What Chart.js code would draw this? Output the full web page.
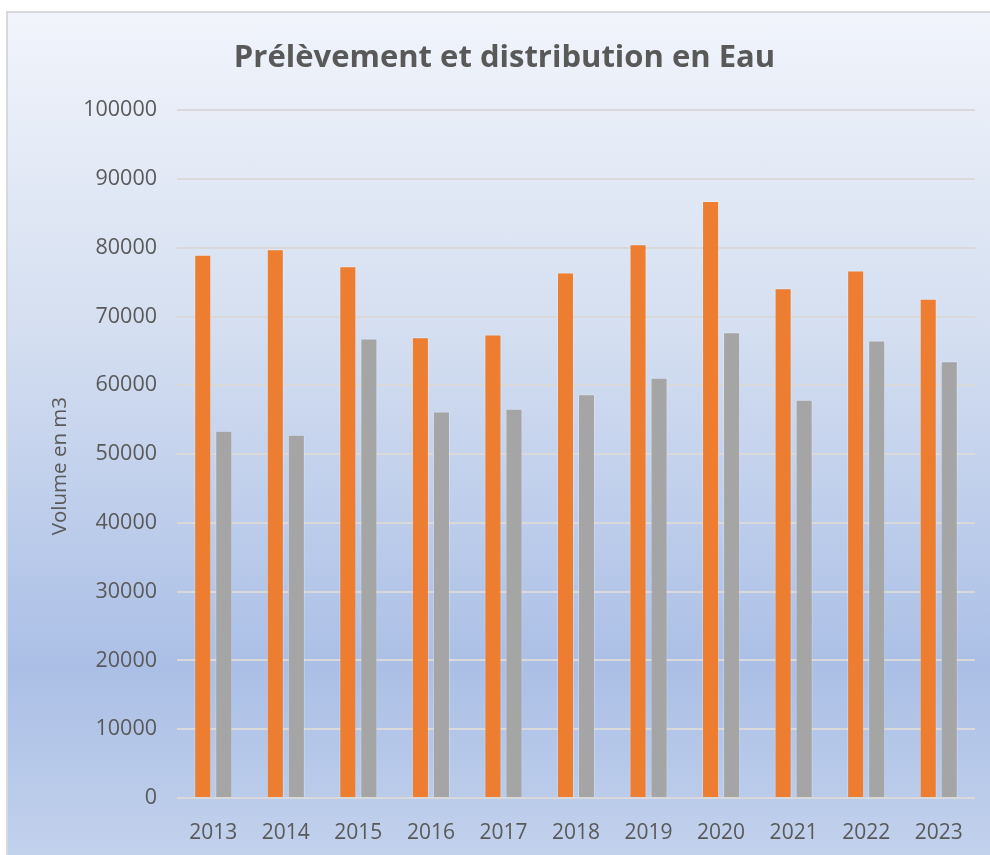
<!DOCTYPE html>
<html>
<head>
<meta charset="utf-8">
<script src="https://cdn.jsdelivr.net/npm/chart.js@4.4.0/dist/chart.umd.min.js"></script>
<style>
  html, body { margin: 0; padding: 0; background: #ffffff; width: 990px; height: 855px; overflow: hidden; }
  #frame {
    position: absolute; left: 6px; top: 11px; width: 1000px; height: 860px;
    border-top: 2px solid #d9d9d9; border-left: 2px solid #d9d9d9;
    background: linear-gradient(to bottom, #f1f4fb 0%, #d6e0f1 35%, #abbfe6 76%, #c4d3ed 100%);
  }
  #wrap { position: absolute; left: 0; top: 0; width: 990px; height: 855px; }
</style>
</head>
<body>
<div id="frame"></div>
<div id="wrap"><canvas id="c" width="990" height="855"></canvas></div>
<script>
const categories = ["2013","2014","2015","2016","2017","2018","2019","2020","2021","2022","2023"];
const prelevement = [79000, 79800, 77300, 67000, 67400, 76400, 80500, 86800, 74100, 76700, 72600];
const distribution = [53400, 52800, 66800, 56200, 56600, 58700, 61100, 67700, 57900, 66500, 63500];
const yTicks = { min: 0, max: 100000, step: 10000 };
const yTitle = "Volume en m3";

const textColor = "#595959";
const fontFamily = "'Open Sans', 'Noto Sans', sans-serif";

const yTitlePlugin = {
  id: "yTitle",
  afterDraw(chart) {
    const ctx = chart.ctx, a = chart.chartArea;
    ctx.save();
    ctx.translate(60, (a.top + a.bottom) / 2 + 12);
    ctx.rotate(-Math.PI / 2);
    ctx.fillStyle = textColor;
    ctx.font = "20.5px " + fontFamily;
    ctx.textAlign = "center";
    ctx.textBaseline = "middle";
    ctx.fillText(yTitle, 0, 0);
    ctx.restore();
  }
};

new Chart(document.getElementById("c"), {
  type: "bar",
  data: {
    labels: categories,
    datasets: [
      { label: "Prélèvement", data: prelevement, backgroundColor: "#ed7d31", borderColor: "rgba(255,255,255,0.25)", borderWidth: 1, barPercentage: 0.81, categoryPercentage: 0.58 },
      { label: "Distribution", data: distribution, backgroundColor: "#a5a5a5", borderColor: "rgba(255,255,255,0.25)", borderWidth: 1, barPercentage: 0.81, categoryPercentage: 0.58 }
    ]
  },
  plugins: [yTitlePlugin],
  options: {
    responsive: false,
    animation: false,
    layout: { padding: { left: 34, right: 15, top: 0, bottom: 0 } },
    plugins: {
      legend: { display: false },
      tooltip: { enabled: false },
      title: {
        display: true,
        text: "Prélèvement et distribution en Eau",
        color: textColor,
        font: { family: fontFamily, size: 31, weight: "bold" },
        padding: { top: 40, bottom: 33 }
      }
    },
    scales: {
      x: {
        grid: { display: false },
        border: { display: false },
        afterFit: (s) => { s.height = 57; },
        ticks: { color: textColor, font: { family: fontFamily, size: 21 }, padding: 14 }
      },
      y: {
        min: yTicks.min, max: yTicks.max,
        afterFit: (s) => { s.width = 143; },
        ticks: { stepSize: yTicks.step, color: textColor, font: { family: fontFamily, size: 21.5 }, padding: 20, callback: (v) => String(v) },
        grid: { color: "#d9d9d9", lineWidth: 2, drawTicks: false },
        border: { display: false },
        title: { display: false }
      }
    }
  }
});
</script>
</body>
</html>
